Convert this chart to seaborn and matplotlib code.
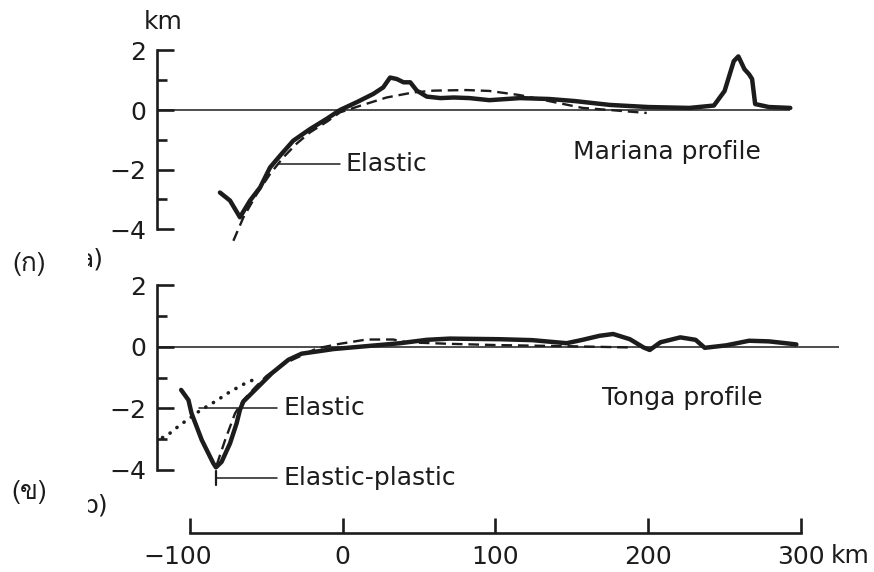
import numpy as np
import pandas as pd
import matplotlib
matplotlib.use("Agg")
import matplotlib.pyplot as plt
import seaborn as sns
import matplotlib.font_manager as fm
from matplotlib.ft2font import FT2Font
from matplotlib.transforms import Bbox, TransformedBbox, ScaledTranslation

# ---------------- data (km) ----------------
mariana_obs_x = [-80.4, -73.8, -67.3, -60.7, -54.1, -47.6, -41, -32.4, -21.4, -10.6, -1.8,
                 9.1, 20, 26.5, 31, 35.4, 39.8, 44.2, 48.5, 55, 64, 72.7, 83, 96, 116, 135,
                 152, 175, 200, 227, 243, 250, 256, 259, 263, 266, 268, 270, 279, 293]
mariana_obs_y = [-2.77, -3.04, -3.6, -3.04, -2.6, -1.93, -1.53, -1.03, -0.64, -0.3, 0.0,
                 0.26, 0.54, 0.76, 1.09, 1.04, 0.93, 0.93, 0.65, 0.45, 0.4, 0.42, 0.4, 0.33,
                 0.4, 0.37, 0.3, 0.17, 0.1, 0.07, 0.15, 0.64, 1.64, 1.8, 1.37, 1.2, 1.04,
                 0.2, 0.1, 0.07]

mariana_elastic_x = [-71.6, -65, -56.3, -47.6, -38.9, -30, -21.4, -10, -1.8, 11.3, 28.7,
                     46.2, 59.3, 81, 96, 116, 135, 157, 175, 199]
mariana_elastic_y = [-4.39, -3.6, -2.82, -2.15, -1.59, -1.12, -0.75, -0.38, -0.08, 0.14,
                     0.42, 0.59, 0.65, 0.67, 0.64, 0.5, 0.3, 0.07, 0.0, -0.1]

tonga_obs_x = [-105.8, -101, -99, -95.6, -92.3, -88, -84.7, -83, -79.3, -73.8, -69.5, -67.3,
               -65.1, -57.4, -46.5, -35.6, -26.9, -17, -6, 10, 26, 37.5, 55, 70, 103, 124,
               146.6, 157, 168, 177, 188, 197, 201, 208, 221, 231, 237, 251, 266, 279, 290,
               297]
tonga_obs_y = [-1.4, -1.73, -2.16, -2.6, -3.03, -3.46, -3.79, -3.92, -3.74, -3.14, -2.49,
               -2.05, -1.78, -1.4, -0.86, -0.42, -0.22, -0.15, -0.07, 0.0, 0.07, 0.12, 0.23,
               0.27, 0.25, 0.22, 0.12, 0.23, 0.36, 0.42, 0.25, -0.02, -0.1, 0.15, 0.31, 0.23,
               -0.03, 0.05, 0.2, 0.18, 0.12, 0.08]

tonga_elastic_plastic_x = [-82.5, -77, -70.5, -65, -57, -50, -40, -33, -17, -2, 15.6, 33,
                           42, 70, 100, 150, 190]
tonga_elastic_plastic_y = [-3.84, -3.03, -2.16, -1.73, -1.3, -0.95, -0.6, -0.42, -0.05, 0.1,
                           0.24, 0.24, 0.15, 0.1, 0.06, 0.02, -0.02]

tonga_elastic_x = [-118, -115.4, -106.5, -101, -93.4, -83.6, -73.8, -62.9, -57.4]
tonga_elastic_y = [-2.95, -2.9, -2.54, -2.35, -2.07, -1.78, -1.46, -1.16, -1.05]

mariana_baseline = [-121.6, 293]
tonga_baseline = [-121.6, 325]

y_major = [-4, -2, 0, 2]
y_major_labels = ["\u22124", "\u22122", "0", "2"]
y_minor = [-3, -1, 1]
x_ticks = [-100, 0, 100, 200, 300]
x_ticklabels = ["\u2212100", "0", "100", "200", "300"]

# ---------------- style ----------------
sns.set_theme(style="white")
plt.rcParams["font.family"] = ["DejaVu Sans"]
INK = "#1c1c1c"


def find_thai():
    for f in fm.fontManager.ttflist:
        try:
            cm = FT2Font(f.fname).get_charmap()
        except Exception:
            continue
        if 0x0E01 in cm and 0x0E02 in cm:
            return f.name
    return None


thai = find_thai()
thai_family = [thai, "DejaVu Sans"] if thai else ["DejaVu Sans"]

W, H = 874, 572
fig = plt.figure(figsize=(W / 100, H / 100), dpi=100)

XL = (-121.6, 330)


def fx(px):
    return px / W


def fy(py):
    return 1 - py / H


ax_top = fig.add_axes([fx(157), fy(253), (846.8 - 157) / W, (253 - 11.7) / H])
ax_bot = fig.add_axes([fx(157), fy(494.4), (846.8 - 157) / W, (494.4 - 267) / H])
ax_x = fig.add_axes([fx(157), fy(533), (846.8 - 157) / W, 0.02])

ax_top.set_ylim(-4.8, 3.3)
ax_bot.set_ylim(-4.8, 2.6)

for ax in (ax_top, ax_bot, ax_x):
    ax.set_xlim(*XL)
    ax.set_facecolor("none")
    for s in ax.spines.values():
        s.set_visible(False)

for ax in (ax_top, ax_bot):
    ax.spines["left"].set_visible(True)
    ax.spines["left"].set_bounds(-4, 2)
    ax.spines["left"].set_linewidth(1.9)
    ax.spines["left"].set_color(INK)
    ax.set_xticks([])
    ax.set_yticks(y_major)
    ax.set_yticklabels(y_major_labels)
    ax.set_yticks(y_minor, minor=True)
    ax.tick_params(axis="y", which="major", direction="in", length=12.5, width=1.9,
                   color=INK, labelsize=18, labelcolor=INK, pad=8, left=True)
    ax.tick_params(axis="y", which="minor", direction="in", length=7.5, width=1.9,
                   color=INK, left=True)

ax_top.hlines(0, mariana_baseline[0], mariana_baseline[1], color=INK, lw=1.1)
ax_bot.hlines(0, tonga_baseline[0], tonga_baseline[1], color=INK, lw=1.1)

# ---------------- curves ----------------
m_obs = pd.DataFrame({"x": mariana_obs_x, "y": mariana_obs_y})
m_el = pd.DataFrame({"x": mariana_elastic_x, "y": mariana_elastic_y})
t_obs = pd.DataFrame({"x": tonga_obs_x, "y": tonga_obs_y})
t_ep = pd.DataFrame({"x": tonga_elastic_plastic_x, "y": tonga_elastic_plastic_y})
t_el = pd.DataFrame({"x": tonga_elastic_x, "y": tonga_elastic_y})

sns.lineplot(data=m_el, x="x", y="y", ax=ax_top, sort=False, estimator=None, color=INK,
             lw=1.7, linestyle=(0, (4.5, 2.5)))
sns.lineplot(data=m_obs, x="x", y="y", ax=ax_top, sort=False, estimator=None, color=INK,
             lw=3.2, solid_capstyle="round", solid_joinstyle="round")

sns.lineplot(data=t_el, x="x", y="y", ax=ax_bot, sort=False, estimator=None, color=INK,
             lw=2.6, linestyle=(0, (0.05, 2.4)), dash_capstyle="round")
sns.lineplot(data=t_ep, x="x", y="y", ax=ax_bot, sort=False, estimator=None, color=INK,
             lw=1.7, linestyle=(0, (4.5, 2.5)))
sns.lineplot(data=t_obs, x="x", y="y", ax=ax_bot, sort=False, estimator=None, color=INK,
             lw=3.2, solid_capstyle="round", solid_joinstyle="round")

for ax in (ax_top, ax_bot):
    ax.set_xlabel("")
    ax.set_ylabel("")
    ax.set_xlim(*XL)

# ---------------- annotations ----------------
FS = 18
ax_top.plot([-42, -1.5], [-1.8, -1.8], color=INK, lw=1.1)
ax_top.text(1.5, -1.8, "Elastic", fontsize=FS, color=INK, va="center", ha="left")
ax_top.text(151, -1.4, "Mariana profile", fontsize=FS, color=INK, va="center", ha="left")

ax_bot.plot([-94, -43], [-2, -2], color=INK, lw=1.1)
ax_bot.text(-38.5, -2, "Elastic", fontsize=FS, color=INK, va="center", ha="left")
ax_bot.plot([-83, -43], [-4.28, -4.28], color=INK, lw=1.1)
ax_bot.plot([-83, -83], [-4.05, -4.5], color=INK, lw=1.6)
ax_bot.text(-38.5, -4.28, "Elastic-plastic", fontsize=FS, color=INK, va="center", ha="left")
ax_bot.text(170, -1.65, "Tonga profile", fontsize=FS, color=INK, va="center", ha="left")

fig.text(fx(163), fy(22), "km", fontsize=FS, color=INK, ha="center", va="center")

# panel labels
fig.text(fx(29), fy(264), "(\u0e01)", fontsize=19, color=INK, ha="center", va="center",
         family=thai_family)
fig.text(fx(29), fy(492), "(\u0e02)", fontsize=19, color=INK, ha="center", va="center",
         family=thai_family)
clip = TransformedBbox(Bbox([[fx(88), 0], [1, 1]]), fig.transFigure)
ta = fig.text(fx(104), fy(259), "a)", fontsize=FS, color=INK, ha="right", va="center")
ta.set_clip_box(clip)
ta.set_clip_on(True)
tb = fig.text(fx(108), fy(505), "b)", fontsize=FS, color=INK, ha="right", va="center")
tb.set_clip_box(clip)
tb.set_clip_on(True)

# ---------------- shared x axis ----------------
ax_x.spines["bottom"].set_visible(True)
ax_x.spines["bottom"].set_bounds(-100, 300)
ax_x.spines["bottom"].set_linewidth(1.9)
ax_x.spines["bottom"].set_color(INK)
ax_x.set_yticks([])
ax_x.set_xticks(x_ticks)
ax_x.set_xticklabels(x_ticklabels)
ax_x.tick_params(axis="x", direction="in", length=11, width=1.9, color=INK,
                 labelsize=FS, labelcolor=INK, pad=9, bottom=True)
# the minus sign hangs to the left of the centred digits
neg_label = ax_x.get_xticklabels()[0]
neg_label.set_transform(neg_label.get_transform() +
                        ScaledTranslation(-0.12, 0, fig.dpi_scale_trans))
fig.text(fx(831), fy(556), "km", fontsize=FS, color=INK, ha="left", va="center")

fig.savefig("out.png", dpi=100)
